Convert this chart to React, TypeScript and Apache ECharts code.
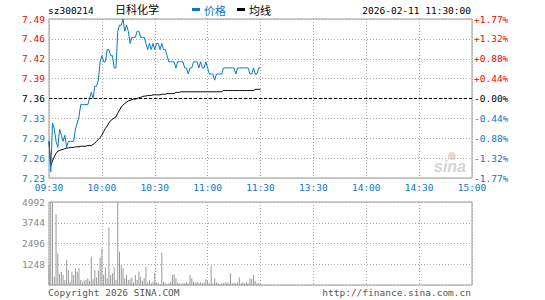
import React, { useEffect, useRef } from "react";
import * as echarts from "echarts";

const PREV_CLOSE = 7.36;
const HALF_RANGE = 0.13;
const STEP = 0.0325;

const TIME_LABELS = ["09:30", "10:00", "10:30", "11:00", "11:30", "13:30", "14:00", "14:30", "15:00"];
const PRICE_LABELS = ["7.23", "7.26", "7.29", "7.33", "7.36", "7.39", "7.42", "7.46", "7.49"];
const PCT_LABELS = ["-1.77%", "-1.32%", "-0.88%", "-0.44%", "-0.00%", "+0.44%", "+0.88%", "+1.32%", "+1.77%"];
const VOL_LABELS = ["", "1248", "2496", "3744", "4992"];
const VOL_MAX = 4992;

const PRICES = [
  7.29, 7.24, 7.32, 7.31, 7.29, 7.28, 7.31, 7.30, 7.29, 7.30,
  7.28, 7.29, 7.29, 7.29, 7.29, 7.31, 7.32, 7.33, 7.35, 7.35,
  7.35, 7.35, 7.35, 7.36, 7.37, 7.36, 7.38, 7.38, 7.39, 7.42,
  7.43, 7.42, 7.42, 7.44, 7.44, 7.43, 7.43, 7.41, 7.41, 7.47,
  7.48, 7.48, 7.49, 7.47, 7.48, 7.47, 7.45, 7.46, 7.46, 7.46,
  7.47, 7.47, 7.46, 7.46, 7.46, 7.45, 7.44, 7.45, 7.44, 7.45,
  7.44, 7.45, 7.45, 7.44, 7.45, 7.44, 7.44, 7.43, 7.42, 7.42,
  7.42, 7.42, 7.41, 7.42, 7.42, 7.42, 7.42, 7.41, 7.41, 7.40,
  7.41, 7.41, 7.42, 7.42, 7.42, 7.41, 7.42, 7.41, 7.41, 7.42,
  7.41, 7.40, 7.40, 7.40, 7.39, 7.40, 7.40, 7.40, 7.40, 7.41,
  7.41, 7.41, 7.41, 7.41, 7.41, 7.41, 7.40, 7.41, 7.41, 7.41,
  7.41, 7.41, 7.41, 7.41, 7.40, 7.40, 7.41, 7.40, 7.40, 7.41,
  7.41,
];

const AVERAGE = [
  7.290, 7.250, 7.258, 7.265, 7.270, 7.274, 7.275, 7.276, 7.277, 7.278,
  7.279, 7.279, 7.280, 7.280, 7.280, 7.281, 7.281, 7.281, 7.282, 7.282,
  7.282, 7.282, 7.283, 7.283, 7.283, 7.285, 7.287, 7.290, 7.293, 7.296,
  7.300, 7.306, 7.311, 7.315, 7.320, 7.324, 7.326, 7.328, 7.330, 7.336,
  7.341, 7.346, 7.349, 7.352, 7.354, 7.356, 7.357, 7.358, 7.359, 7.359,
  7.360, 7.361, 7.362, 7.363, 7.364, 7.364, 7.365, 7.365, 7.365, 7.366,
  7.366, 7.366, 7.366, 7.366, 7.367, 7.367, 7.367, 7.368, 7.368, 7.368,
  7.368, 7.368, 7.370, 7.370, 7.370, 7.371, 7.371, 7.371, 7.371, 7.371,
  7.371, 7.371, 7.371, 7.371, 7.371, 7.371, 7.371, 7.371, 7.371, 7.371,
  7.371, 7.371, 7.371, 7.371, 7.371, 7.371, 7.371, 7.371, 7.371, 7.373,
  7.373, 7.373, 7.373, 7.373, 7.373, 7.373, 7.373, 7.373, 7.373, 7.373,
  7.373, 7.373, 7.373, 7.373, 7.373, 7.373, 7.373, 7.375, 7.375, 7.375,
  7.375,
];

const VOLUMES = [
  1200, 4992, 4992, 500, 4250, 1900, 660, 800, 600, 300,
  1500, 900, 200, 800, 600, 1000, 800, 1000, 300, 150,
  250, 300, 400, 250, 1700, 350, 900, 450, 850, 1660,
  2200, 600, 1050, 400, 3460, 600, 700, 1040, 300, 4992,
  2000, 1200, 1000, 400, 600, 300, 350, 450, 150, 600,
  300, 800, 500, 250, 400, 1100, 150, 300, 100, 200,
  700, 150, 100, 50, 1940, 200, 100, 50, 100, 200,
  600, 650, 400, 150, 100, 50, 100, 100, 150, 100,
  600, 400, 200, 150, 200, 100, 150, 100, 150, 350,
  250, 100, 1160, 100, 400, 150, 100, 50, 100, 100,
  150, 150, 100, 700, 100, 150, 100, 150, 450, 100,
  150, 100, 150, 100, 400, 350, 580, 250, 100, 100,
  50,
];

const BLUE = "#0a78c8";
const RED = "#ff0000";
const GRID_LINE = "#aaaaaa";
const BORDER = "#999999";
const MONO = "DejaVu Sans Mono, monospace";
const CJK = "Noto Sans CJK SC, sans-serif";

function tickIndex(v: number) {
  return Math.round((v + HALF_RANGE) / STEP);
}
function styleName(i: number) {
  return i < 4 ? "b" : i === 4 ? "k" : "r";
}
const RICH = {
  b: { color: BLUE, fontFamily: MONO, fontSize: 9.5 },
  k: { color: "#000000", fontFamily: MONO, fontSize: 9.5 },
  r: { color: RED, fontFamily: MONO, fontSize: 9.5 },
};

export default function App() {
  const ref = useRef<HTMLDivElement>(null);

  useEffect(() => {
    document.body.style.margin = "0";
    const chart = echarts.init(ref.current!, null, { renderer: "svg" });

    const priceData = PRICES.map((p, i) => [i, +(p - PREV_CLOSE).toFixed(4)]);
    const avgData = AVERAGE.map((p, i) => [i, +(p - PREV_CLOSE).toFixed(4)]);
    const volData = VOLUMES.map((v, i) => [i, v]);

    const dotted = { color: GRID_LINE, type: [1, 2] as any, width: 1 };

    chart.setOption({
      animation: false,
      backgroundColor: "#ffffff",
      legend: {
        data: [
          { name: "价格", textStyle: { color: BLUE } },
          { name: "均线", textStyle: { color: "#000000" } },
        ],
        left: 192,
        top: 4,
        padding: 0,
        icon: "rect",
        itemWidth: 8,
        itemHeight: 3,
        itemGap: 11,
        textStyle: { fontFamily: CJK, fontSize: 11, padding: [0, 0, 0, -1] },
        selectedMode: false,
      },
      graphic: [
        {
          type: "text",
          left: 48,
          top: 5,
          style: { text: "sz300214", fill: "#000", font: `9.5px ${MONO}` },
        },
        {
          type: "text",
          left: 115,
          top: 3,
          style: { text: "日科化学", fill: "#000", font: `11px ${CJK}` },
        },
        {
          type: "text",
          right: 74,
          top: 5,
          style: { text: "2026-02-11 11:30:00", fill: "#000", font: `9.5px ${MONO}` },
        },
        {
          type: "text",
          left: 48,
          top: 287,
          style: { text: "Copyright 2026 SINA.COM", fill: "#555", font: `9.5px ${MONO}` },
        },
        {
          type: "text",
          right: 74,
          top: 287,
          style: { text: "http://finance.sina.com.cn", fill: "#555", font: `9.5px ${MONO}` },
        },
        {
          type: "circle",
          shape: { cx: 452, cy: 156, r: 4 },
          style: { fill: "#f4c4c4", opacity: 0.8 },
        },
        {
          type: "text",
          left: 434,
          top: 158,
          style: {
            text: "sina",
            fill: "#d4d4d4",
            font: `italic bold 16px Arial, Liberation Sans, sans-serif`,
          },
        },
      ],
      grid: [
        { left: 49, right: 73, top: 19, height: 159, show: true, borderColor: BORDER, borderWidth: 1, backgroundColor: "transparent" },
        { left: 49, right: 73, top: 202, height: 83, show: true, borderColor: BORDER, borderWidth: 1, backgroundColor: "transparent" },
      ],
      xAxis: [
        {
          type: "value",
          gridIndex: 0,
          min: 0,
          max: 240,
          interval: 30,
          axisLine: { show: false },
          axisTick: { show: false },
          splitLine: { show: true, lineStyle: dotted },
          axisLabel: {
            margin: 4,
            color: BLUE,
            fontFamily: MONO,
            fontSize: 9.5,
            formatter: (v: number) => TIME_LABELS[Math.round(v / 30)] ?? "",
          },
        },
        {
          type: "value",
          gridIndex: 1,
          min: 0,
          max: 240,
          interval: 30,
          axisLine: { show: false },
          axisTick: { show: false },
          splitLine: { show: true, lineStyle: dotted },
          axisLabel: { show: false },
        },
      ],
      yAxis: [
        {
          type: "value",
          gridIndex: 0,
          min: -HALF_RANGE,
          max: HALF_RANGE,
          interval: STEP,
          axisLine: { show: false },
          axisTick: { show: false },
          splitLine: { show: true, lineStyle: dotted },
          axisLabel: {
            margin: 4,
            rich: RICH,
            formatter: (v: number) => {
              const i = tickIndex(v);
              return `{${styleName(i)}|${PRICE_LABELS[i] ?? ""}}`;
            },
          },
        },
        {
          type: "value",
          gridIndex: 0,
          position: "right",
          min: -HALF_RANGE,
          max: HALF_RANGE,
          interval: STEP,
          axisLine: { show: false },
          axisTick: { show: false },
          splitLine: { show: false },
          axisLabel: {
            margin: 2,
            rich: RICH,
            formatter: (v: number) => {
              const i = tickIndex(v);
              return `{${styleName(i)}|${PCT_LABELS[i] ?? ""}}`;
            },
          },
        },
        {
          type: "value",
          gridIndex: 1,
          min: 0,
          max: VOL_MAX,
          interval: VOL_MAX / 4,
          axisLine: { show: false },
          axisTick: { show: false },
          splitLine: { show: true, lineStyle: dotted },
          axisLabel: {
            margin: 4,
            color: "#888888",
            fontFamily: MONO,
            fontSize: 9.5,
            formatter: (v: number) => VOL_LABELS[Math.round(v / (VOL_MAX / 4))] ?? "",
          },
        },
      ],
      series: [
        {
          name: "均线",
          type: "line",
          xAxisIndex: 0,
          yAxisIndex: 0,
          data: avgData,
          showSymbol: false,
          symbol: "none",
          lineStyle: { color: "#000000", width: 1 },
          itemStyle: { color: "#000000" },
          z: 3,
        },
        {
          name: "价格",
          type: "line",
          xAxisIndex: 0,
          yAxisIndex: 0,
          data: priceData,
          showSymbol: false,
          symbol: "none",
          lineStyle: { color: BLUE, width: 1 },
          itemStyle: { color: BLUE },
          z: 4,
          markLine: {
            silent: true,
            symbol: "none",
            label: { show: false },
            lineStyle: { color: "#000000", type: [3, 2] as any, width: 1 },
            data: [{ yAxis: 0 }],
          },
        },
        {
          name: "成交量",
          type: "bar",
          xAxisIndex: 1,
          yAxisIndex: 2,
          data: volData,
          barWidth: 1,
          itemStyle: { color: "#999999" },
        },
      ],
    });

    return () => chart.dispose();
  }, []);

  return (
    <div
      ref={ref}
      style={{ position: "absolute", left: 0, top: 0, width: 545, height: 300 }}
    />
  );
}
